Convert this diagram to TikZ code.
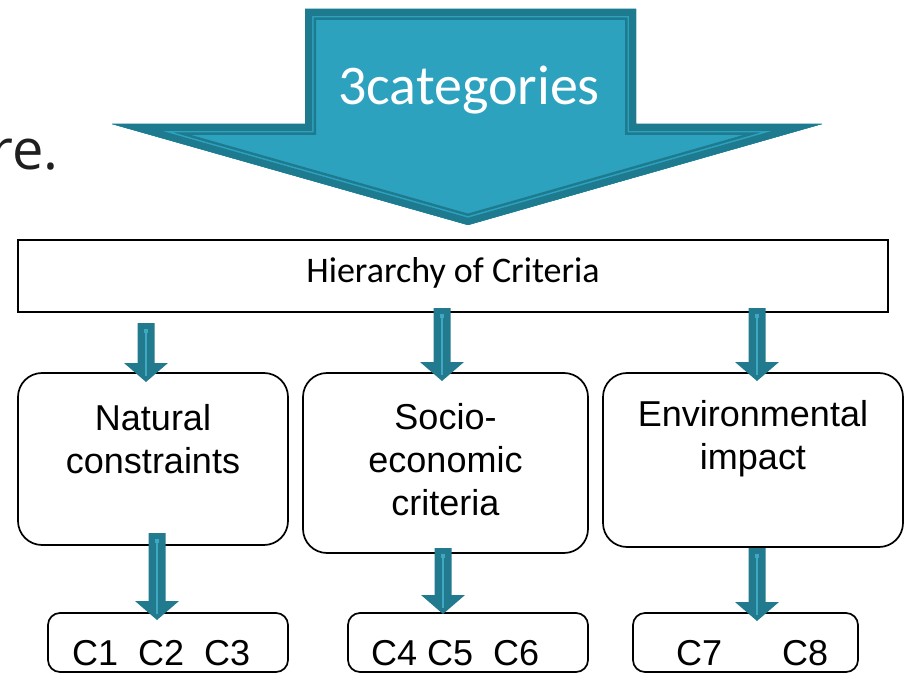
\documentclass[tikz,border=0pt]{standalone}
\usepackage{fontspec}
\setmainfont{Liberation Sans}
\newfontfamily\calib{Carlito}
\newfontfamily\opens{Open Sans}
\usetikzlibrary{calc}

\definecolor{catlight}{HTML}{2DA2BF}
\definecolor{catdark}{HTML}{1E7A8E}
\definecolor{barfill}{HTML}{217A8E}
\definecolor{barline}{HTML}{3FA9C3}

\tikzset{
  box/.style={draw=black, line width=1.7pt, rounded corners=#1},
  box/.default=24pt,
  plainbox/.style={draw=black, line width=1.7pt},
  lbl/.style={font=\fontsize{36}{43}\selectfont, align=center, inner sep=0pt},
}

% Block arrow drawn from a top point (#1) down to its tip (#2)
\newcommand\blockarrow[2]{%
  \fill[barfill] ($(#1)+(-8.5,0)$) -- ($(#1)+(8.5,0)$) -- ($(#2)+(8.5,-19)$)
    -- ($(#2)+(22,-19)$) -- (#2) -- ($(#2)+(-22,-19)$) -- ($(#2)+(-8.5,-19)$) -- cycle;
  \draw[barline, line width=1.1pt] ($(#1)+(0,7)$) -- ($(#2)+(0,-6)$);
  \fill[barline] ($(#1)+(-1.6,6)$) rectangle ($(#1)+(1.6,10)$);
}

\def\catpath{(305,9) -- (636,9) -- (636,124) -- (822,124) -- (468,225) -- (112,124) -- (305,124) -- cycle}

\begin{document}
\begin{tikzpicture}[x=1pt, y=-1pt, line join=miter, miter limit=25]
\useasboundingbox (0,0) rectangle (906,674);

% partial heading text at the left edge
\node[anchor=base east, inner sep=0pt, text=black!88, font=\opens\fontsize{56}{60}\selectfont] (rest) at (59,170) {re.};

% large downward arrow with its triple outline
\begin{scope}
  \clip \catpath;
  \fill[catlight] \catpath;
  \draw[catdark, line width=22pt] \catpath;
  \draw[catlight, line width=17pt] \catpath;
  \draw[catdark, line width=14pt] \catpath;
\end{scope}
\node[text=white, inner sep=0pt, font=\calib\fontsize{56}{60}\selectfont] (cat) at (469,90) {3categories};

% top box
\node[plainbox, minimum width=870pt, minimum height=72pt, inner sep=0pt] (hier) at (453,276) {};
\node[inner sep=0pt, font=\calib\fontsize{36}{40}\selectfont] (hierlbl) at (453,273) {Hierarchy of Criteria};

% category boxes
\node[box, minimum width=270pt, minimum height=172pt, inner sep=0pt] (nat) at (153,459) {};
\node[lbl] (natlbl) at (153,439) {Natural\\constraints};
\node[box, minimum width=285pt, minimum height=180pt, inner sep=0pt] (soc) at (445.5,463) {};
\node[lbl] (soclbl) at (445.5,460) {Socio-\\economic\\criteria};
\node[box, minimum width=300pt, minimum height=174pt, inner sep=0pt] (env) at (753,460) {};
\node[lbl] (envlbl) at (753,439) {Environmental\\impact};

% criteria boxes
\node[box=12pt, minimum width=240pt, minimum height=59pt, inner sep=0pt] (ca) at (168,642.5) {};
\node[box=12pt, minimum width=240pt, minimum height=59pt, inner sep=0pt] (cb) at (468,642.5) {};
\node[box=12pt, minimum width=225pt, minimum height=59pt, inner sep=0pt] (cc) at (745.5,642.5) {};
\node[lbl, anchor=base west] (calbl) at (72,665) {C1\ \ C2\ \ C3};
\node[lbl, anchor=base west] (cblbl) at (371,665) {C4 C5\ \ C6};
\node[lbl, anchor=base west] (cclbl) at (676,665) {C7\ \ \ \ \ \ C8};

% arrow end points
\coordinate (a1s) at (146,323);
\coordinate (a1e) at (146,382);
\coordinate (a2s) at (442,308);
\coordinate (a2e) at (442,381);
\coordinate (a3s) at (757,308);
\coordinate (a3e) at (757,381);
\coordinate (b1s) at (157,533);
\coordinate (b1e) at (157,620);
\coordinate (b2s) at (443,548);
\coordinate (b2e) at (443,614);
\coordinate (b3s) at (757,548);
\coordinate (b3e) at (757,621);

\blockarrow{a1s}{a1e}
\blockarrow{a2s}{a2e}
\blockarrow{a3s}{a3e}
\blockarrow{b1s}{b1e}
\blockarrow{b2s}{b2e}
\blockarrow{b3s}{b3e}
\end{tikzpicture}
\end{document}
